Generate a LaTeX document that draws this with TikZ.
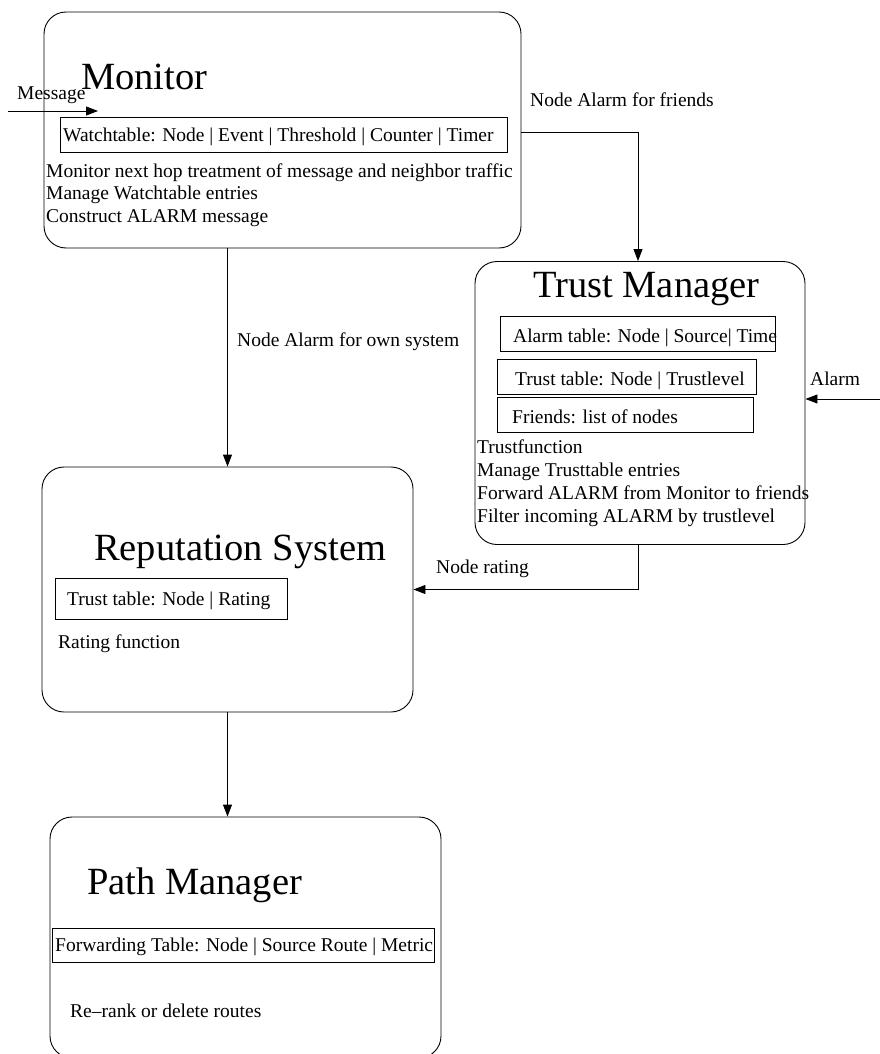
\documentclass[tikz,border=0pt]{standalone}
\usepackage{fontspec}
\setmainfont{Liberation Serif}
\usetikzlibrary{arrows.meta, positioning}

\begin{document}
\begin{tikzpicture}[x=1pt, y=-1pt,
  module/.style={draw, line width=0.9pt, rounded corners=22pt, inner sep=0pt},
  tbl/.style={draw, line width=0.9pt, inner sep=0pt, minimum height=35pt},
  title/.style={inner sep=0pt, anchor=base west, font=\fontsize{38.5}{40}\selectfont},
  body/.style={inner sep=0pt, anchor=base west, align=left, font=\fontsize{19.5}{22.5}\selectfont},
  conn/.style={line width=0.9pt, -{Triangle[length=12pt, width=9pt]}}
]
  \useasboundingbox (0,0) rectangle (880,1054);

  % modules
  \node[module, minimum width=477pt, minimum height=236pt] (monitor) at (282.5,130) {};
  \node[module, minimum width=330pt, minimum height=283pt] (trust) at (640,403) {};
  \node[module, minimum width=371pt, minimum height=245pt] (rep) at (227.5,589.5) {};
  \node[module, minimum width=391pt, minimum height=241pt] (path) at (245.5,937.5) {};

  % Monitor
  \node[title] (montitle) at (81,90) {Monitor};
  \node[tbl, minimum width=447pt] (watchtbl) at (283.5,134.5) {};
  \node[body] (watchtxt) at (63,141) {Watchtable: Node | Event | Threshold | Counter | Timer};
  \node[body] (montxt) at (46,222) {Monitor next hop treatment of message and neighbor traffic\\
    Manage Watchtable entries\\Construct ALARM message};

  % Trust Manager
  \node[title] (trusttitle) at (533,297) {Trust Manager};
  \node[tbl, minimum width=275pt] (alarmtbl) at (637.5,333.5) {};
  \node[body] (alarmtxt) at (513,342) {Alarm table: Node | Source| Time};
  \node[tbl, minimum width=259pt] (trusttbl) at (626.5,376.5) {};
  \node[body] (trusttxt) at (515,385) {Trust table: Node | Trustlevel};
  \node[tbl, minimum width=256pt] (friendtbl) at (625,414.5) {};
  \node[body] (friendtxt) at (512,423) {Friends: list of nodes};
  \node[body, font=\fontsize{19.5}{23}\selectfont] (trustfun) at (477,522) {Trustfunction\\
    Manage Trusttable entries\\Forward ALARM from Monitor to friends\\
    Filter incoming ALARM by trustlevel};

  % Reputation System
  \node[title] (reptitle) at (94,560) {Reputation System};
  \node[tbl, minimum width=232pt, minimum height=41pt] (ratetbl) at (171,598.5) {};
  \node[body] (ratetxt) at (67,605) {Trust table: Node | Rating};
  \node[body] (ratefun) at (58,648) {Rating function};

  % Path Manager
  \node[title] (pathtitle) at (87,894) {Path Manager};
  \node[tbl, minimum width=382pt, minimum height=34pt] (fwdtbl) at (243,945) {};
  \node[body] (fwdtxt) at (55,951) {Forwarding Table: Node | Source Route | Metric};
  \node[body] (routes) at (70,1017) {Re--rank or delete routes};

  % connectors
  \coordinate (msgin) at (8,111);
  \coordinate (msgend) at (98,111);
  \coordinate (alarmin) at (880,399);
  \draw[conn] (msgin) -- (msgend);
  \node[body] (msglbl) at (17,100) {Message};
  \draw[conn] ([yshift=-2pt]monitor.east) -| ([xshift=-2pt]trust.north);
  \node[body] (friendlbl) at (530,107) {Node Alarm for friends};
  \draw[conn] (monitor.south -| rep.north) -- (rep.north);
  \node[body] (ownlbl) at (237,346) {Node Alarm for own system};
  \draw[conn] (alarmin) -- (alarmin -| trust.east);
  \node[body] (alarmlbl) at (810,385) {Alarm};
  \draw[conn] ([xshift=-2pt]trust.south) |- (rep.east);
  \node[body] (ratelbl) at (436,573) {Node rating};
  \draw[conn] (rep.south) -- (rep.south |- path.north);
\end{tikzpicture}
\end{document}
